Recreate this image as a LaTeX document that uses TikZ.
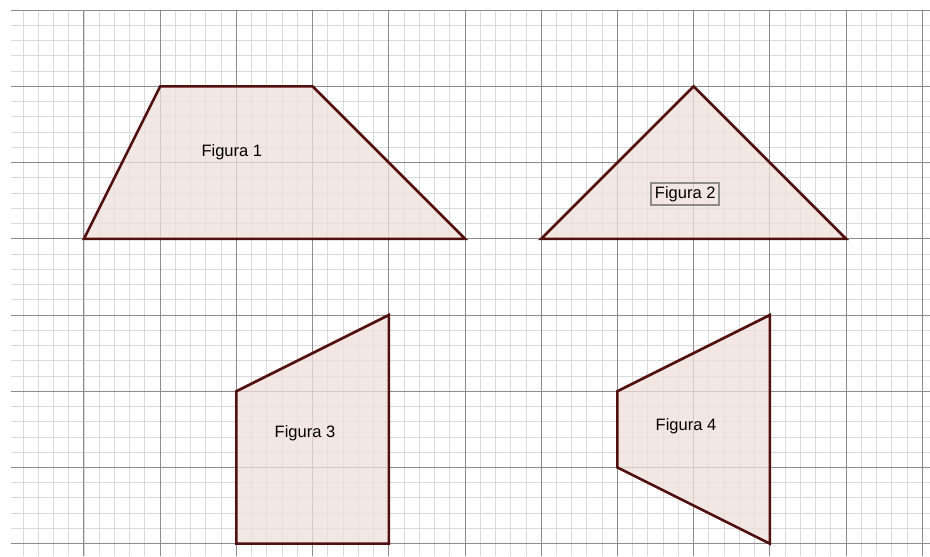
\documentclass[tikz,border=0pt]{standalone}
\usepackage{fontspec}
\setmainfont{Liberation Sans}
\definecolor{figfill}{RGB}{240,224,219}
\definecolor{figedge}{RGB}{80,16,14}
\definecolor{minorgrid}{RGB}{218,218,218}
\definecolor{majorgrid}{RGB}{140,140,140}
\tikzset{
  figura/.style={draw=figedge, line width=2.6pt, fill=figfill, fill opacity=0.75, line join=miter},
  etiqueta/.style={font=\fontsize{16.5}{18}\selectfont, inner sep=2pt}
}
\begin{document}
\begin{tikzpicture}[x=76.2pt,y=76.2pt]
    \useasboundingbox (-0.102,-0.163) rectangle (12.102,7.134);
    \fill[white] (-0.102,-0.163) rectangle (12.102,7.134);

    % Grid
    \draw[minorgrid, line width=0.9pt, step=0.2] (0.04,-0.163) grid (12.102,7);
    \draw[majorgrid, line width=1pt, step=1] (0.04,-0.163) grid (12.102,7);
    \draw[majorgrid, line width=1pt] (0.04,7) -- (12.102,7);

    % Figures
    \draw[figura] (1,4) -- (2,6) -- (4,6) -- (6,4) -- cycle;
    \draw[figura] (7,4) -- (9,6) -- (11,4) -- cycle;
    \draw[figura] (3,0) -- (3,2) -- (5,3) -- (5,0) -- cycle;
    \draw[figura] (8,1) -- (8,2) -- (10,3) -- (10,0) -- cycle;

    % Labels
    \node[etiqueta] (fig1) at (2.94,5.14) {Figura 1};
    \node[etiqueta, draw=majorgrid, line width=2pt, inner sep=3.5pt] (fig2) at (8.89,4.59) {Figura 2};
    \node[etiqueta] (fig3) at (3.9,1.45) {Figura 3};
    \node[etiqueta] (fig4) at (8.9,1.54) {Figura 4};
\end{tikzpicture}
\end{document}
